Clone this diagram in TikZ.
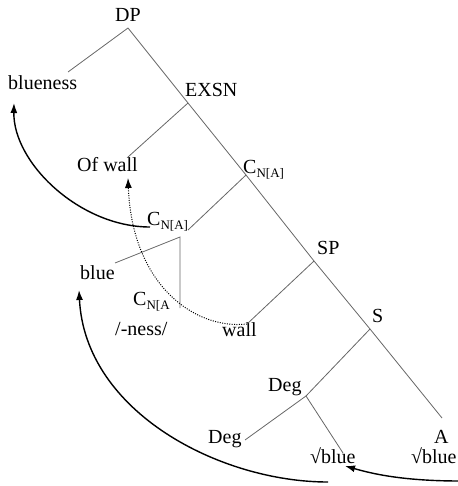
\documentclass[tikz,border=0pt]{standalone}
\usepackage{fontspec}
\setmainfont{Liberation Serif}
\usetikzlibrary{arrows.meta}
\newcommand\sbs[1]{\raisebox{-4pt}{\fontsize{13}{13}\selectfont #1}}
\begin{document}
\begin{tikzpicture}[x=1pt,y=-1pt,
  lbl/.style={anchor=base west,inner sep=0pt,font=\fontsize{20}{22}\selectfont},
  br/.style={draw=black!60,line width=0.8pt},
  mv/.style={draw=black,line width=1.4pt,-{Latex[length=10pt,width=7pt]}},
  mvdot/.style={draw=black,line width=1pt,dash pattern=on 1pt off 1.4pt,-{Latex[length=10pt,width=7pt]}}]
\useasboundingbox (0,0) rectangle (457,486);
% labels
\node[lbl] (dp) at (115,21.7) {DP};
\node[lbl] (blueness) at (8,90) {blueness};
\node[lbl] (exsn) at (185,96.7) {EXSN};
\node[lbl] (ofwall) at (77,171.7) {Of wall};
\node[lbl] (cna1) at (243,173.3) {C\sbs{N[A]}};
\node[lbl] (cna2) at (147,225) {C\sbs{N[A]}};
\node[lbl] (blue) at (80,279.3) {blue};
\node[lbl] (cna3) at (133,305) {C\sbs{N[A}};
\node[lbl] (ness) at (115,335) {/-ness/};
\node[lbl] (sp) at (317,254) {SP};
\node[lbl] (wall) at (222,336.7) {wall};
\node[lbl] (s) at (372,322.7) {S};
\node[lbl] (deg1) at (268,391) {Deg};
\node[lbl] (deg2) at (208,443.3) {Deg};
\node[lbl] (root1) at (310,463.3) {√blue};
\node[lbl] (a) at (434,443.3) {A};
\node[lbl] (root2) at (411,463.3) {√blue};
% tree points
\coordinate (pDP) at (128,28);
\coordinate (pBlueness) at (68,72);
\coordinate (pEXSN) at (188,103);
\coordinate (pOfwall) at (128,157);
\coordinate (pC1) at (246,175);
\coordinate (pC2top) at (188,230);
\coordinate (pC2) at (180,237);
\coordinate (pBlue) at (115,263);
\coordinate (pC3) at (180,308);
\coordinate (pSP) at (314,261);
\coordinate (pWall) at (247,324);
\coordinate (pS) at (370,329);
\coordinate (pDeg) at (306,396);
\coordinate (pDeg2) at (245,440);
\coordinate (pRoot) at (343,453);
\coordinate (pA) at (442,418);
% tree branches
\draw[br] (pDP) -- (pEXSN) -- (pC1) -- (pSP) -- (pS) -- (pA);
\draw[br] (pDP) -- (pBlueness);
\draw[br] (pEXSN) -- (pOfwall);
\draw[br] (pC1) -- (pC2top);
\draw[br] (pBlue) -- (pC2) -- (pC3);
\draw[br] (pSP) -- (pWall);
\draw[br] (pS) -- (pDeg);
\draw[br] (pDeg2) -- (pDeg) -- (pRoot);
% movement arrows
\coordinate (a1s) at (150,227);
\coordinate (a1e) at (14,103);
\draw[mv] (a1s) .. controls (80,227) and (13,163) .. (a1e);
\coordinate (a2e) at (128,178);
\draw[mvdot] (pWall) .. controls (195,330) and (132,285) .. (a2e);
\coordinate (a3s) at (460,481);
\coordinate (a3e) at (345,466);
\draw[mv] (a3s) .. controls (400,481) and (370,473) .. (a3e);
\coordinate (a4s) at (328,482);
\coordinate (a4e) at (79,290);
\draw[mv] (a4s) .. controls (220,482) and (85,412) .. (a4e);
\end{tikzpicture}
\end{document}
